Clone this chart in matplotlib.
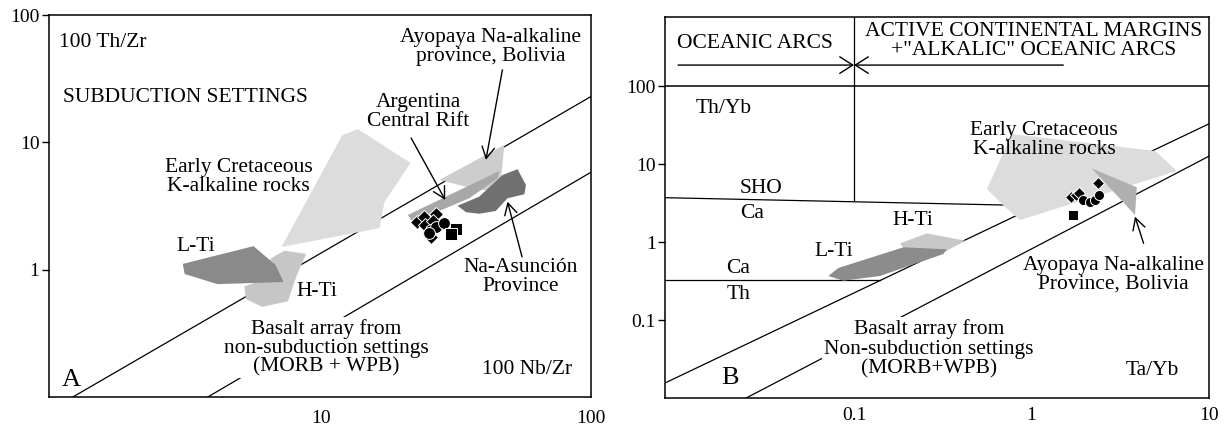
import matplotlib
matplotlib.use('Agg')
import matplotlib.pyplot as plt
from matplotlib.patches import Polygon
from matplotlib.ticker import FixedLocator, FixedFormatter, NullLocator

plt.rcParams['font.family'] = ['Liberation Serif', 'DejaVu Serif']

# ---------------- Panel A : 100 Th/Zr vs 100 Nb/Zr ----------------
a_xlim = (0.975, 100)
a_ylim = (0.1, 100)
a_xticks = [10, 100]
a_xticklabels = ['10', '100']
a_yticks = [1, 10, 100]
a_yticklabels = ['1', '10', '100']

# mantle array boundaries
a_upper_x = [1.20, 100]
a_upper_y = [0.1, 22.8]
a_lower_x = [3.8, 100]
a_lower_y = [0.1, 5.8]

a_early_x = [7.14, 12.0, 13.7, 21.5, 17.2, 16.5, 14.5]
a_early_y = [1.51, 11.4, 12.7, 6.89, 3.40, 2.13, 2.01]
a_hti_x = [6.53, 7.32, 8.81, 8.09, 7.54, 6.04, 5.26, 5.20, 6.02]
a_hti_y = [1.23, 1.41, 1.33, 0.88, 0.565, 0.51, 0.59, 0.74, 0.82]
a_lti_x = [3.07, 5.62, 6.78, 7.26, 4.13, 3.12]
a_lti_y = [1.11, 1.53, 1.09, 0.80, 0.77, 0.925]
a_ayo_x = [27.5, 47.9, 46.1, 38.6]
a_ayo_y = [5.07, 9.55, 4.22, 4.22]
a_arg_x = [21.0, 45.9, 45.2, 35.5, 21.9]
a_arg_y = [2.69, 5.96, 5.22, 3.64, 2.36]
a_nas_x = [32.1, 38.6, 47.2, 53.6, 57.6, 56.8, 49.2, 44.5, 38.6, 34.5]
a_nas_y = [3.18, 3.74, 5.55, 6.15, 4.62, 3.91, 3.64, 2.89, 2.75, 2.83]

# samples
a_dia_x = [22.8, 24.2, 26.8, 24.4, 26.0, 25.6]
a_dia_y = [2.36, 2.61, 2.74, 2.24, 2.42, 1.82]
a_cir_x = [25.6, 26.8, 28.7, 25.2]
a_cir_y = [2.05, 2.18, 2.31, 1.93]
a_sq_x = [31.7, 30.4]
a_sq_y = [2.09, 1.90]

# arrows: (tail, head)
a_arrows = [((47.1, 37.1), (40.9, 7.28)),
            ((21.6, 10.8), (28.9, 3.53)),
            ((55.7, 1.26), (49.2, 3.42))]

# ---------------- Panel B : Th/Yb vs Ta/Yb ----------------
b_xlim = (0.0086, 10)
b_ylim = (0.01, 780)
b_xticks = [0.1, 1, 10]
b_xticklabels = ['0.1', '1', '10']
b_yticks = [0.1, 1, 10, 100]
b_yticklabels = ['0.1', '1', '10', '100']

b_upper_x = [0.0086, 10]
b_upper_y = [0.0157, 33]
b_lower_x = [0.0245, 10]
b_lower_y = [0.01, 12.7]
b_sho_x = [0.0086, 0.72]
b_sho_y = [3.73, 3.0]
b_cath_x = [0.0086, 0.14]
b_cath_y = [0.332, 0.332]
b_vert_x = [0.1, 0.1]
b_vert_y = [3.4, 780]
b_box_y = 100
b_arc_y = 187
b_arc_left = (0.0102, 0.1)
b_arc_right = (1.51, 0.1)

b_early_x = [0.776, 4.98, 6.61, 0.861, 0.690, 0.561]
b_early_y = [24.4, 14.8, 8.2, 1.93, 3.01, 4.82]
b_ayo_x = [2.18, 3.92, 3.83, 2.95]
b_ayo_y = [8.89, 5.07, 2.24, 4.25]
b_hti_x = [0.182, 0.257, 0.422, 0.326, 0.198]
b_hti_y = [0.971, 1.30, 1.05, 0.757, 0.736]
b_lti_x = [0.0716, 0.0817, 0.190, 0.333, 0.319, 0.140, 0.0871]
b_lti_y = [0.370, 0.469, 0.863, 0.813, 0.708, 0.370, 0.322]

b_dia_x = [2.38, 1.68, 1.78, 1.86]
b_dia_y = [5.70, 3.85, 4.04, 4.25]
b_cir_x = [1.96, 2.13, 2.27, 2.41]
b_cir_y = [3.48, 3.32, 3.48, 4.04]
b_sq_x = [1.72]
b_sq_y = [2.24]

b_arrows = [((4.28, 0.97), (3.83, 2.13))]

FS = 15.5


def setup_axes(ax, xlim, ylim, xt, xtl, yt, ytl, xpad):
    ax.set_xscale('log')
    ax.set_yscale('log')
    ax.set_xlim(*xlim)
    ax.set_ylim(*ylim)
    ax.xaxis.set_major_locator(FixedLocator(xt))
    ax.xaxis.set_major_formatter(FixedFormatter(xtl))
    ax.yaxis.set_major_locator(FixedLocator(yt))
    ax.yaxis.set_major_formatter(FixedFormatter(ytl))
    ax.xaxis.set_minor_locator(NullLocator())
    ax.yaxis.set_minor_locator(NullLocator())
    ax.tick_params(axis='x', length=0, pad=xpad, labelsize=14)
    ax.tick_params(axis='y', length=5, width=1, pad=1.5, labelsize=14)
    for s in ax.spines.values():
        s.set_linewidth(1.1)


def patch(ax, xs, ys, color, z=2):
    ax.add_patch(Polygon(list(zip(xs, ys)), closed=True, facecolor=color,
                         edgecolor='none', zorder=z))


def arrow(ax, tail, head):
    ax.annotate('', xy=head, xytext=tail,
                arrowprops=dict(arrowstyle='->,head_length=0.55,head_width=0.3',
                                lw=1.0, color='black', mutation_scale=15,
                                shrinkA=0, shrinkB=0), zorder=6)


def samples(ax, dx, dy, cx, cy, sx, sy, scale=1.0):
    kw = dict(color='black', markeredgecolor='white', markeredgewidth=0.7,
              linestyle='none', zorder=5)
    ax.plot(dx, dy, marker='D', markersize=7 * scale, **kw)
    ax.plot(cx, cy, marker='o', markersize=8.5 * scale, **kw)
    ax.plot(sx, sy, marker='s', markersize=8.5 * scale, **kw)


fig = plt.figure(figsize=(12.28, 4.28), dpi=100)

# ---------- A ----------
ax = fig.add_axes([0.0395, 0.0724, 0.4414, 0.8925])
setup_axes(ax, a_xlim, a_ylim, a_xticks, a_xticklabels, a_yticks, a_yticklabels, 9)
ax.plot(a_upper_x, a_upper_y, color='black', lw=0.9, zorder=1)
ax.plot(a_lower_x, a_lower_y, color='black', lw=0.9, zorder=1)

patch(ax, a_early_x, a_early_y, '#dcdcdc')
patch(ax, a_hti_x, a_hti_y, '#c6c6c6')
patch(ax, a_lti_x, a_lti_y, '#8a8a8a', 3)
patch(ax, a_ayo_x, a_ayo_y, '#cdcdcd')
patch(ax, a_nas_x, a_nas_y, '#707070')
patch(ax, a_arg_x, a_arg_y, '#a8a8a8', 3)
samples(ax, a_dia_x, a_dia_y, a_cir_x, a_cir_y, a_sq_x, a_sq_y)
for t, h in a_arrows:
    arrow(ax, t, h)

tA = dict(transform=ax.transAxes, fontsize=FS, zorder=4, linespacing=1.0)
ax.text(0.019, 0.927, '100 Th/Zr', ha='left', va='center', **tA)
ax.text(0.027, 0.783, 'SUBDUCTION SETTINGS', ha='left', va='center', **tA)
ax.text(0.816, 0.915, 'Ayopaya Na-alkaline\nprovince, Bolivia', ha='center', va='center', **tA)
ax.text(0.682, 0.745, 'Argentina\nCentral Rift', ha='center', va='center', **tA)
ax.text(0.351, 0.577, 'Early Cretaceous\nK-alkaline rocks', ha='center', va='center', **tA)
ax.text(0.272, 0.393, 'L-Ti', ha='center', va='center', **tA)
ax.text(0.495, 0.276, 'H-Ti', ha='center', va='center', **tA)
ax.text(0.871, 0.315, 'Na-Asunción\nProvince', ha='center', va='center', **tA)
ax.text(0.513, 0.129, 'Basalt array from\nnon-subduction settings\n(MORB + WPB)',
        ha='center', va='center', transform=ax.transAxes, fontsize=FS, zorder=4,
        linespacing=0.95, bbox=dict(facecolor='white', edgecolor='none', pad=1.5))
ax.text(0.042, 0.045, 'A', ha='center', va='center', transform=ax.transAxes,
        fontsize=19, zorder=4)
ax.text(0.882, 0.071, '100 Nb/Zr', ha='center', va='center', **tA)

# ---------- B ----------
bx = fig.add_axes([0.5415, 0.0694, 0.4430, 0.8916])
setup_axes(bx, b_xlim, b_ylim, b_xticks, b_xticklabels, b_yticks, b_yticklabels, 6.5)
line_kw = dict(color='black', lw=0.9, zorder=1)
bx.plot(b_upper_x, b_upper_y, **line_kw)
bx.plot(b_lower_x, b_lower_y, **line_kw)
bx.plot(b_sho_x, b_sho_y, **line_kw)
bx.plot(b_cath_x, b_cath_y, **line_kw)
bx.plot(b_vert_x, b_vert_y, **line_kw)
bx.axhline(b_box_y, color='black', lw=1.1, zorder=1)

# oceanic arcs / continental margins boundary arrows
for tail in (b_arc_left[0], b_arc_right[0]):
    bx.annotate('', xy=(b_arc_left[1], b_arc_y), xytext=(tail, b_arc_y),
                arrowprops=dict(arrowstyle='->,head_length=0.55,head_width=0.35',
                                lw=1.0, color='black', mutation_scale=17,
                                shrinkA=0, shrinkB=0), zorder=6)

patch(bx, b_early_x, b_early_y, '#dcdcdc')
patch(bx, b_ayo_x, b_ayo_y, '#b0b0b0', 3)
patch(bx, b_hti_x, b_hti_y, '#c8c8c8')
patch(bx, b_lti_x, b_lti_y, '#8c8c8c', 3)
samples(bx, b_dia_x, b_dia_y, b_cir_x, b_cir_y, b_sq_x, b_sq_y, scale=0.85)
for t, h in b_arrows:
    arrow(bx, t, h)

tB = dict(transform=bx.transAxes, fontsize=FS, zorder=4, linespacing=1.0)
bx.text(0.165, 0.930, 'OCEANIC ARCS', ha='center', va='center', **tB)
bx.text(0.678, 0.937, 'ACTIVE CONTINENTAL MARGINS\n+"ALKALIC" OCEANIC ARCS',
        ha='center', va='center', **tB)
bx.text(0.108, 0.760, 'Th/Yb', ha='center', va='center', **tB)
bx.text(0.697, 0.677, 'Early Cretaceous\nK-alkaline rocks', ha='center', va='center', **tB)
bx.text(0.177, 0.550, 'SHO', ha='center', va='center', **tB)
bx.text(0.160, 0.485, 'Ca', ha='center', va='center', **tB)
bx.text(0.455, 0.467, 'H-Ti', ha='center', va='center', **tB)
bx.text(0.311, 0.384, 'L-Ti', ha='center', va='center', **tB)
bx.text(0.134, 0.341, 'Ca', ha='center', va='center', **tB)
bx.text(0.136, 0.271, 'Th', ha='center', va='center', **tB)
bx.text(0.825, 0.323, 'Ayopaya Na-alkaline\nProvince, Bolivia', ha='center', va='center', **tB)
bx.text(0.485, 0.129, 'Basalt array from\nNon-subduction settings\n(MORB+WPB)',
        ha='center', va='center', transform=bx.transAxes, fontsize=FS, zorder=4,
        linespacing=1.05, bbox=dict(facecolor='white', edgecolor='none', pad=1.5))
bx.text(0.119, 0.053, 'B', ha='center', va='center', transform=bx.transAxes,
        fontsize=19, zorder=4)
bx.text(0.896, 0.074, 'Ta/Yb', ha='center', va='center', **tB)

fig.savefig('out.png', dpi=100)
